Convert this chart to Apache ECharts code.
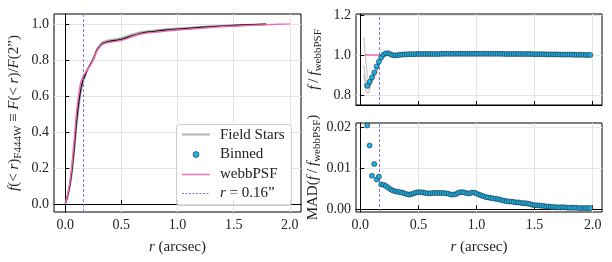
<!DOCTYPE html>
<html><head><meta charset="utf-8">
<script src="https://cdn.jsdelivr.net/npm/echarts@6/dist/echarts.min.js"></script>
<style>html,body{margin:0;padding:0;background:#fff}#c{width:612px;height:262px}</style>
</head><body><div id="c"></div>
<script>
// ---------- data ----------
// left panel: cumulative fraction f(<r)
const rPSF = [0,0.02,0.04,0.06,0.08,0.10,0.12,0.14,0.16,0.18,0.20,0.22,0.25,0.28,0.30,0.33,0.36,0.40,0.45,0.50,0.55,0.60,0.65,0.70,0.80,0.90,1.00,1.10,1.20,1.30,1.40,1.50,1.60,1.70,1.80,1.90,2.00];
const fPSF = [0,0.05,0.12,0.22,0.36,0.51,0.61,0.68,0.71,0.73,0.75,0.765,0.80,0.845,0.865,0.885,0.893,0.898,0.903,0.908,0.918,0.930,0.940,0.946,0.953,0.960,0.966,0.970,0.975,0.980,0.984,0.987,0.990,0.993,0.995,0.998,1.000];
const rStar = [0,0.02,0.04,0.06,0.08,0.10,0.12,0.14,0.16,0.18,0.20,0.22,0.25,0.28,0.30,0.33,0.36,0.40,0.45,0.50,0.60,0.70,0.80,0.90,1.00,1.20,1.40,1.60,1.79];
const fMean = [0,0.04,0.10,0.19,0.31,0.45,0.56,0.64,0.69,0.72,0.75,0.77,0.805,0.85,0.87,0.89,0.898,0.904,0.909,0.914,0.935,0.952,0.959,0.966,0.971,0.980,0.988,0.994,0.998];
const fStar1 = [0,0.05,0.12,0.22,0.35,0.49,0.59,0.66,0.70,0.73,0.755,0.775,0.815,0.86,0.88,0.90,0.908,0.913,0.918,0.924,0.945,0.960,0.967,0.973,0.977,0.985,0.992,0.997,1.0];
const fStar2 = [0,0.035,0.09,0.17,0.29,0.43,0.54,0.63,0.68,0.715,0.745,0.768,0.80,0.845,0.866,0.887,0.896,0.902,0.907,0.912,0.933,0.950,0.957,0.964,0.969,0.979,0.987,0.993,0.997];
const fStar3 = [0,0.045,0.11,0.20,0.33,0.47,0.57,0.65,0.695,0.725,0.752,0.772,0.81,0.855,0.875,0.895,0.903,0.909,0.914,0.919,0.940,0.956,0.963,0.970,0.974,0.983,0.990,0.995,0.999];
const fStar4 = [0,0.03,0.08,0.16,0.27,0.41,0.52,0.61,0.67,0.71,0.742,0.765,0.80,0.846,0.868,0.889,0.897,0.903,0.908,0.913,0.934,0.951,0.958,0.965,0.970,0.980,0.988,0.994,0.998];

// right panels: ratio of field stars to webbPSF
const rRatio = [0.03,0.05,0.07,0.09,0.11,0.13,0.15,0.17,0.19,0.21,0.23,0.26,0.30,0.40,0.50,0.70,1.00,1.30,1.60,1.79];
const ratioStar1 = [1.09,0.96,0.87,0.88,0.90,0.925,0.955,0.98,1.0,1.012,1.015,1.01,1.004,1.008,1.01,1.012,1.012,1.01,1.008,1.004];
const ratioStar2 = [0.86,0.82,0.81,0.85,0.875,0.90,0.93,0.96,0.985,1.0,1.005,1.0,0.995,1.002,1.004,1.006,1.006,1.005,1.004,1.002];
const ratioStar3 = [0.95,0.86,0.84,0.86,0.89,0.92,0.945,0.97,0.99,1.005,1.01,1.005,1.0,1.005,1.007,1.009,1.009,1.008,1.006,1.003];
const ratioStar4 = [0.90,0.84,0.83,0.855,0.88,0.905,0.935,0.965,0.985,1.0,1.008,1.003,0.998,1.004,1.006,1.008,1.008,1.006,1.005,1.002];
const rWebbRatio = [0.04, 2.0];
const webbRatio = [1.0, 1.0];

const rBin = [
0.06,0.08,0.10,0.12,0.14,0.16,0.18,0.20,0.22,0.24,
0.26,0.28,0.30,0.32,0.34,0.36,0.38,0.40,0.42,0.44,
0.46,0.48,0.50,0.52,0.54,0.56,0.58,0.60,0.62,0.64,
0.66,0.68,0.70,0.72,0.74,0.76,0.78,0.80,0.82,0.84,
0.86,0.88,0.90,0.92,0.94,0.96,0.98,1.00,1.02,1.04,
1.06,1.08,1.10,1.12,1.14,1.16,1.18,1.20,1.22,1.24,
1.26,1.28,1.30,1.32,1.34,1.36,1.38,1.40,1.42,1.44,
1.46,1.48,1.50,1.52,1.54,1.56,1.58,1.60,1.62,1.64,
1.66,1.68,1.70,1.72,1.74,1.76,1.78,1.80,1.82,1.84,
1.86,1.88,1.90,1.92,1.94,1.96,1.98];
const ratioBin = [
0.846,0.866,0.888,0.913,0.943,0.966,0.988,1.002,1.008,1.009,
1.004,0.999,0.998,0.999,1.001,1.002,1.003,1.003,1.004,1.004,
1.004,1.005,1.005,1.005,1.005,1.005,1.005,1.005,1.005,1.005,
1.005,1.005,1.006,1.006,1.006,1.006,1.006,1.006,1.006,1.006,
1.006,1.006,1.006,1.006,1.006,1.006,1.006,1.006,1.006,1.006,
1.006,1.006,1.006,1.006,1.006,1.006,1.006,1.006,1.006,1.005,
1.005,1.005,1.005,1.005,1.005,1.005,1.005,1.005,1.005,1.005,
1.005,1.004,1.004,1.004,1.004,1.004,1.004,1.003,1.003,1.003,
1.003,1.003,1.003,1.002,1.002,1.002,1.002,1.002,1.002,1.001,
1.001,1.001,1.001,1.001,1.000,1.000,1.000];
const madBin = [
0.0205,0.0156,0.0082,0.0111,0.0073,0.0080,0.0061,0.0060,0.0057,0.0053,
0.0049,0.0046,0.0044,0.0043,0.0042,0.0041,0.0039,0.0037,0.0036,0.0037,
0.0039,0.0041,0.0042,0.0042,0.0041,0.0040,0.0039,0.0039,0.0040,0.0040,
0.0040,0.0040,0.0040,0.0040,0.0039,0.0038,0.0036,0.0036,0.0037,0.0040,
0.0042,0.0042,0.0041,0.0039,0.0039,0.0041,0.0041,0.0039,0.0036,0.0034,
0.0032,0.0030,0.0029,0.0028,0.0027,0.0026,0.0025,0.0024,0.0022,0.0021,
0.0020,0.0019,0.0019,0.0018,0.0017,0.0017,0.0016,0.0015,0.0015,0.0014,
0.0013,0.0011,0.0010,0.0010,0.0009,0.0009,0.0008,0.0007,0.0007,0.0006,
0.0006,0.0005,0.0005,0.0005,0.0005,0.0005,0.0004,0.0004,0.0004,0.0004,
0.0004,0.0003,0.0003,0.0003,0.0003,0.0003,0.0003];

const rCut = 0.16;
const xTicks = [0, 0.5, 1.0, 1.5, 2.0];
const yTicksCum = [0, 0.2, 0.4, 0.6, 0.8, 1.0];
const yTicksRatio = [0.8, 1.0, 1.2];
const yTicksMad = [0, 0.01, 0.02];

// ---------- style ----------
const FF = 'Liberation Serif';
const BLUE = '#1eb0e2', EDGE = '#1a2a3a', PINK = '#f66bb5', DASH = '#7c7cd6', GRAYL = 'rgba(110,110,110,0.4)';
const zip = (xs, ys) => xs.map((x, i) => [x, ys[i]]);
const rich = {
  i: {fontFamily: FF, fontStyle: 'italic', fontSize: 15, lineHeight: 20, color: '#222'},
  s: {fontFamily: FF, fontSize: 11, lineHeight: 12, verticalAlign: 'bottom', color: '#222'}
};
const axisLineStyle = {show: true, lineStyle: {color: '#000', width: 1}};

function xAxis(gi, min, max, showLabel, name) {
  return {
    type: 'value', gridIndex: gi, min: min, max: max,
    name: name || '', nameLocation: 'middle', nameGap: 25,
    nameTextStyle: {fontFamily: FF, fontSize: 15, color: '#222', rich: rich, lineHeight: 20},
    axisLine: axisLineStyle,
    axisTick: {show: true, inside: true, length: 4, lineStyle: {color: '#000'}, customValues: xTicks},
    axisLabel: {show: showLabel, customValues: xTicks, fontFamily: FF, fontSize: 14, color: '#222', margin: 6,
      formatter: v => v.toFixed(1)},
    splitLine: {show: true, lineStyle: {color: '#e5e5e5', width: 1}}
  };
}
function yAxis(gi, min, max, ticks, dec, name, gap) {
  return {
    type: 'value', gridIndex: gi, min: min, max: max,
    name: name, nameLocation: 'middle', nameGap: gap, nameRotate: 90,
    nameTextStyle: {fontFamily: FF, fontSize: 15, color: '#222', rich: rich, lineHeight: 20},
    axisLine: axisLineStyle,
    axisTick: {show: true, inside: true, length: 4, lineStyle: {color: '#000'}, customValues: ticks},
    axisLabel: {customValues: ticks, fontFamily: FF, fontSize: 14, color: '#222', margin: 5,
      formatter: v => v.toFixed(dec)},
    splitLine: {show: true, lineStyle: {color: '#e5e5e5', width: 1}}
  };
}
const vline = {silent: true, symbol: 'none', label: {show: false},
  lineStyle: {type: [3, 2], color: DASH, width: 1, opacity: 1}, data: [{xAxis: rCut}]};

function grayLine(xi, yi, xs, ys) {
  return {type: 'line', xAxisIndex: xi, yAxisIndex: yi, data: zip(xs, ys), showSymbol: false, symbol: 'none',
    lineStyle: {color: GRAYL, width: 1.2}, smooth: 0.2, z: 2};
}

const series = [
  grayLine(0, 0, rStar, fStar1), grayLine(0, 0, rStar, fStar2), grayLine(0, 0, rStar, fStar3), grayLine(0, 0, rStar, fStar4),
  {type: 'line', xAxisIndex: 0, yAxisIndex: 0, data: zip(rStar, fMean), symbol: 'none', smooth: 0.2,
    lineStyle: {color: '#1a1a1a', width: 1.3}, z: 3},
  {type: 'line', xAxisIndex: 0, yAxisIndex: 0, data: zip(rPSF, fPSF), symbol: 'none', smooth: 0.2,
    lineStyle: {color: PINK, width: 1.4}, z: 4, markLine: vline},
  grayLine(1, 1, rRatio, ratioStar1), grayLine(1, 1, rRatio, ratioStar2), grayLine(1, 1, rRatio, ratioStar3), grayLine(1, 1, rRatio, ratioStar4),
  {type: 'line', xAxisIndex: 1, yAxisIndex: 1, data: zip(rWebbRatio, webbRatio), symbol: 'none',
    lineStyle: {color: PINK, width: 1.4}, z: 3, markLine: vline},
  {type: 'scatter', xAxisIndex: 1, yAxisIndex: 1, data: zip(rBin, ratioBin), symbolSize: 5,
    itemStyle: {color: BLUE, borderColor: EDGE, borderWidth: 0.6, opacity: 1}, z: 5},
  {type: 'scatter', xAxisIndex: 2, yAxisIndex: 2, data: zip(rBin, madBin), symbolSize: 5,
    itemStyle: {color: BLUE, borderColor: EDGE, borderWidth: 0.6, opacity: 1}, z: 5, markLine: vline}
];

const gridStyle = {show: true, borderColor: '#000', borderWidth: 1, backgroundColor: 'transparent'};
const legendTextStyle = {fontFamily: FF, fontSize: 15, fill: '#222', verticalAlign: 'middle', align: 'left'};

const option = {
  animation: false,
  backgroundColor: '#fff',
  grid: [
    Object.assign({left: 54, top: 14, width: 247, height: 198}, gridStyle),
    Object.assign({left: 356, top: 14, width: 246, height: 91}, gridStyle),
    Object.assign({left: 356, top: 123, width: 246, height: 89}, gridStyle)
  ],
  xAxis: [
    xAxis(0, -0.1, 2.1, true, '{i|r} (arcsec)'),
    xAxis(1, -0.037, 2.08, false, ''),
    xAxis(2, -0.037, 2.08, true, '{i|r} (arcsec)')
  ],
  yAxis: [
    yAxis(0, -0.045, 1.055, yTicksCum, 1, '{i|f}(< {i|r}){s|F444W} ≡ {i|F}(< {i|r})/{i|F}(2”)', 30),
    yAxis(1, 0.75, 1.205, yTicksRatio, 1, '{i|f}\u2009/\u2009{i|f}{s|webbPSF}', 32),
    yAxis(2, -0.00065, 0.0211, yTicksMad, 2, 'MAD({i|f}\u2009/\u2009{i|f}{s|webbPSF})', 32)
  ],
  series: series,
  graphic: [
    {type: 'rect', z: 100, shape: {x: 176.5, y: 124.5, width: 115, height: 81, r: 3},
      style: {fill: 'rgba(255,255,255,0.85)', stroke: '#cccccc', lineWidth: 1}},
    {type: 'line', z: 101, shape: {x1: 182, y1: 134.5, x2: 210, y2: 134.5}, style: {stroke: '#b5b5b5', lineWidth: 2}},
    {type: 'circle', z: 101, shape: {cx: 196, cy: 154.5, r: 3}, style: {fill: BLUE, stroke: EDGE, lineWidth: 0.6}},
    {type: 'line', z: 101, shape: {x1: 182, y1: 174.5, x2: 210, y2: 174.5}, style: {stroke: PINK, lineWidth: 1.5}},
    {type: 'line', z: 101, shape: {x1: 182, y1: 193.5, x2: 210, y2: 193.5}, style: {stroke: DASH, lineWidth: 1, lineDash: [2, 1.5]}},
    {type: 'text', z: 101, x: 220, y: 135, style: Object.assign({text: 'Field Stars'}, legendTextStyle)},
    {type: 'text', z: 101, x: 220, y: 154.5, style: Object.assign({text: 'Binned'}, legendTextStyle)},
    {type: 'text', z: 101, x: 220, y: 174, style: Object.assign({text: 'webbPSF'}, legendTextStyle)},
    {type: 'text', z: 101, x: 220, y: 193.5, style: Object.assign({text: '{i|r} = 0.16”', rich: {i: {fontFamily: FF, fontStyle: 'italic', fontSize: 15}}}, legendTextStyle)}
  ]
};
const chart = echarts.init(document.getElementById('c'), null, {renderer: 'canvas'});
chart.setOption(option);
</script></body></html>
